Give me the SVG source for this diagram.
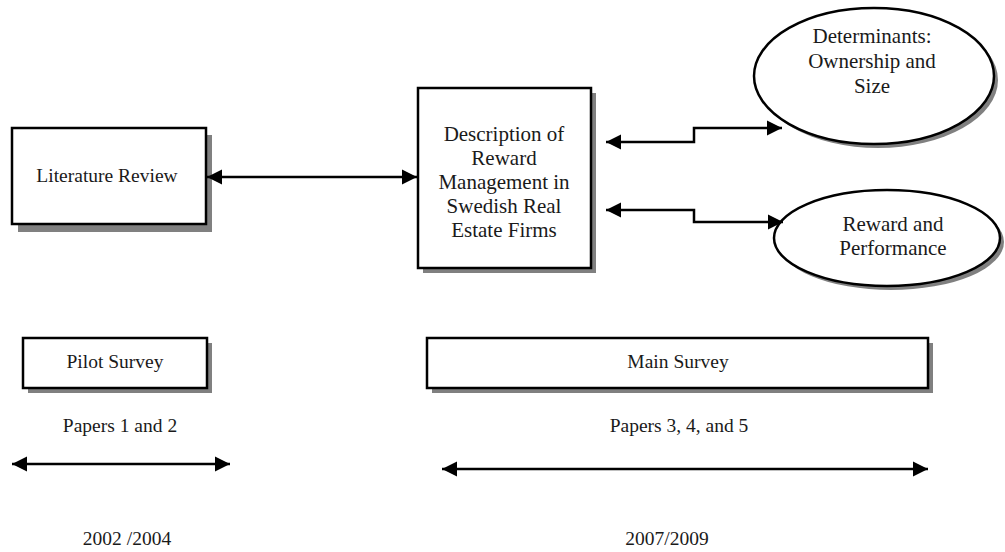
<svg xmlns="http://www.w3.org/2000/svg" width="1005" height="552" viewBox="0 0 1005 552">
<style>
.box{fill:#fff;stroke:#000;stroke-width:2.5}
.sh{fill:#808080;stroke:none}
.t{font-family:"Liberation Serif",serif;font-size:19.5px;fill:#1a1a1a;text-anchor:middle}
.tb{font-size:21px}
.c{fill:none;stroke:#000;stroke-width:2.5}
</style>
<defs>
<marker id="ah" markerUnits="userSpaceOnUse" markerWidth="16" markerHeight="16" viewBox="0 0 16 16" refX="15" refY="8" orient="auto-start-reverse">
<path d="M0,0.5 L15,8 L0,15.5 z" fill="#000"/>
</marker>
</defs>
<rect width="1005" height="552" fill="#fff"/>
<g id="literature-review">
<rect class="sh" x="18" y="135" width="194" height="97"/>
<rect class="box" x="12" y="128" width="194" height="96"/>
<text class="t" x="107" y="182">Literature Review</text>
</g>
<g id="description">
<rect class="sh" x="423" y="93" width="173" height="180"/>
<rect class="box" x="418" y="88" width="173" height="180"/>
<text class="t tb" x="504" y="141">Description of</text>
<text class="t tb" x="504" y="165">Reward</text>
<text class="t tb" x="504" y="189">Management in</text>
<text class="t tb" x="504" y="213">Swedish Real</text>
<text class="t tb" x="504" y="237">Estate Firms</text>
</g>
<g id="determinants">
<ellipse class="sh" cx="878" cy="80" rx="120" ry="68"/>
<ellipse class="box" cx="874" cy="76" rx="120" ry="68"/>
<text class="t tb" x="872" y="43">Determinants:</text>
<text class="t tb" x="872" y="68">Ownership and</text>
<text class="t tb" x="872" y="93">Size</text>
</g>
<g id="reward-performance">
<ellipse class="sh" cx="891" cy="242" rx="113" ry="48"/>
<ellipse class="box" cx="887" cy="238" rx="113" ry="48"/>
<text class="t tb" x="893" y="231">Reward and</text>
<text class="t tb" x="893" y="255">Performance</text>
</g>
<g id="pilot-survey">
<rect class="sh" x="28" y="343" width="184" height="50"/>
<rect class="box" x="23" y="338" width="184" height="50"/>
<text class="t" x="115" y="368">Pilot Survey</text>
</g>
<g id="main-survey">
<rect class="sh" x="432" y="343" width="501" height="50"/>
<rect class="box" x="427" y="338" width="501" height="50"/>
<text class="t" x="678" y="368">Main Survey</text>
</g>
<g id="labels">
<text class="t" x="120" y="432">Papers 1 and 2</text>
<text class="t" x="679" y="432">Papers 3, 4, and 5</text>
<text class="t" x="127" y="545">2002 /2004</text>
<text class="t" x="667" y="545">2007/2009</text>
</g>
<g id="connectors">
<path class="c" d="M207,177 L417,177" marker-start="url(#ah)" marker-end="url(#ah)"/>
<path class="c" d="M606,142 L694,142 L694,128 L782,128" marker-start="url(#ah)" marker-end="url(#ah)"/>
<path class="c" d="M606,210 L694,210 L694,222 L783,222" marker-start="url(#ah)" marker-end="url(#ah)"/>
<path class="c" d="M12,464 L230,464" marker-start="url(#ah)" marker-end="url(#ah)"/>
<path class="c" d="M442,469 L928,469" marker-start="url(#ah)" marker-end="url(#ah)"/>
</g>
</svg>
